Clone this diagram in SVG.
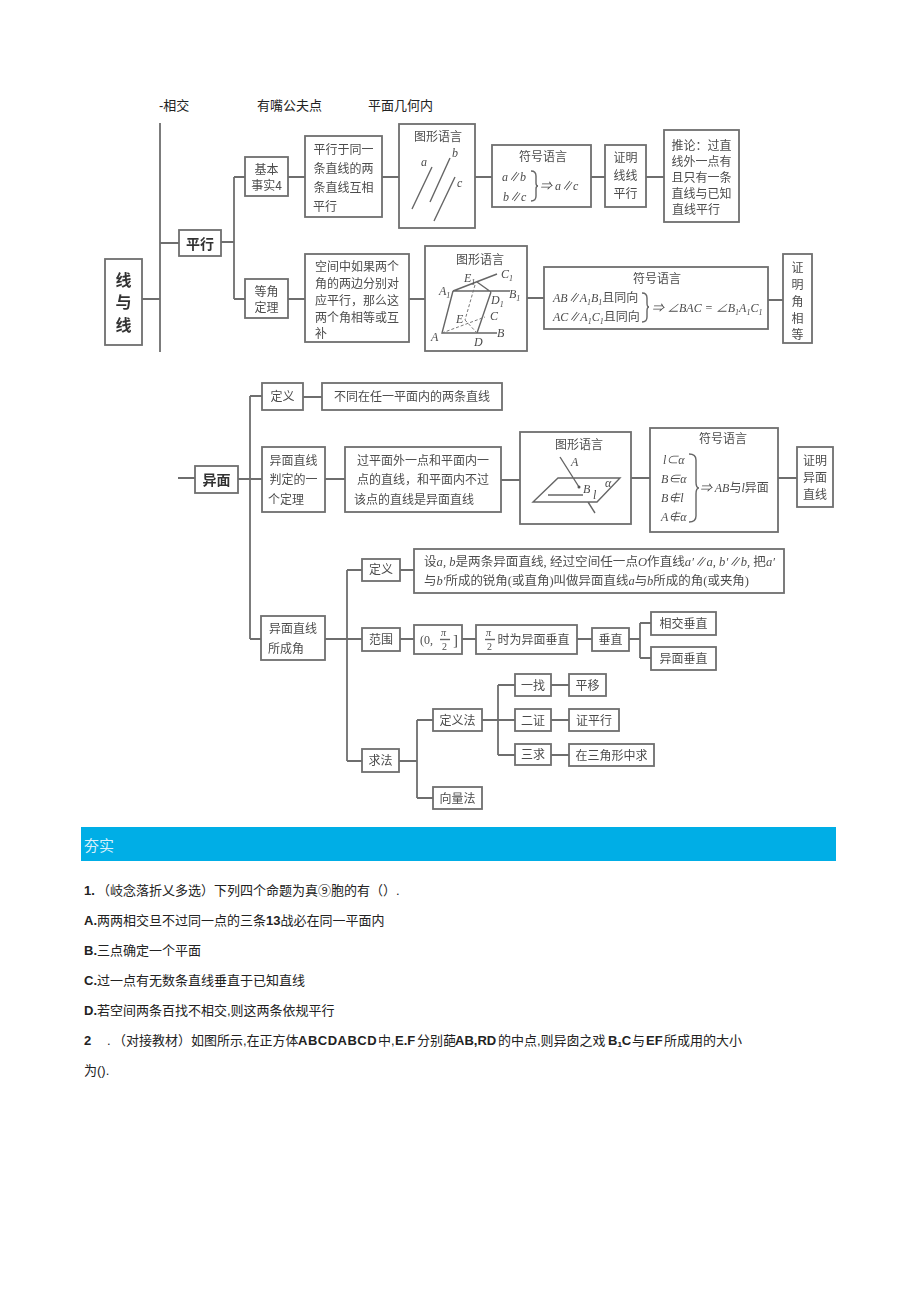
<svg xmlns="http://www.w3.org/2000/svg" width="920" height="1301" viewBox="0 0 920 1301">
<style>
text{font-family:"Liberation Sans","Noto Sans CJK SC",sans-serif;}
.b{fill:#fff;stroke:#6e6e6e;stroke-width:1.8;}
.c{fill:none;stroke:#6e6e6e;stroke-width:1.8;}
.f{fill:none;stroke:#666;stroke-width:1.4;}
.d{fill:none;stroke:#777;stroke-width:1;stroke-dasharray:3 2;}
.t{font-family:"Noto Sans CJK SC",sans-serif;font-size:12px;fill:#4c4c4c;}
.m{font-family:"Noto Sans CJK SC",sans-serif;font-size:12px;fill:#4c4c4c;text-anchor:middle;}
.h{font-family:"Noto Sans CJK SC",sans-serif;font-size:16px;font-weight:700;fill:#333;text-anchor:middle;}
.i{font-family:"Liberation Serif","Noto Sans CJK SC",serif;font-style:italic;font-size:12px;fill:#4c4c4c;}
.s{font-size:8px;}
.p{font-size:13px;fill:#222;}
.q{font-weight:700;}
</style>
<defs><filter id="soft" x="-2%" y="-2%" width="104%" height="104%"><feGaussianBlur stdDeviation="0.45"/></filter></defs>
<rect id="page" width="920" height="1301" fill="#fff"/>
<g id="header" class="p">
<text class="p" x="159" y="110">-相交</text>
<text class="p" x="257" y="110">有嘴公夫点</text>
<text class="p" x="368" y="110">平面几何内</text>
</g>
<g id="diagram" filter="url(#soft)">
<g id="connectors">
<path class="c" d="M160 123V352M142 299H160M160 243H179M221 242H234M234 177V299M234 177H245M234 299H245M288 177H305M382 177H399M475 177H492M591 177H605M646 177H664M288 299H305M409 299H425M527 298H544M768 300H783"/>
<path class="c" d="M178 478H195M238 479H262M250 396V639M250 396H262M303 397H322M325 479H345M501 480H520M631 478H650M778 478H797M250 639H261"/>
<path class="c" d="M325 639H362M347 570V761M347 570H362M400 570H414M400 639H414M462 639H476M577 639H592M629 639H640M640 623V658M640 623H651M640 658H651M347 761H362"/>
<path class="c" d="M399 761H417M417 720V798M417 720H433M417 798H433M482 720H515M498 685V755M498 685H515M498 755H515M551 685H569M551 720H569M551 755H569"/>
</g>
<g id="n-root"><rect class="b" x="105" y="259" width="37" height="86"/><text class="h" x="123.500" y="286">线</text><text class="h" x="123.500" y="308">与</text><text class="h" x="123.500" y="331">线</text></g>
<g id="n-parallel"><rect class="b" x="179" y="230" width="42" height="26"/><text class="h" x="200" y="249" style="font-size:14px">平行</text></g>
<g id="n-fact4"><rect class="b" x="245" y="157" width="43" height="39"/><text class="m" x="266.500" y="174">基本</text><text class="m" x="266.500" y="190">事实4</text></g>
<g id="n-fact4-text"><rect class="b" x="305" y="136" width="77" height="81"/><text class="m" x="343.500" y="154">平行于同一</text><text class="m" x="343.500" y="173">条直线的两</text><text class="m" x="343.500" y="192">条直线互相</text><text class="t" x="313" y="211">平行</text></g>
<g id="n-fig1"><rect class="b" x="399" y="124" width="76" height="104"/><text class="m" x="438" y="141">图形语言</text>
<path class="f" d="M412 209L432 167M430 202L450 158M434 221L455 177"/>
<text class="i" x="421" y="166">a</text><text class="i" x="452" y="157">b</text><text class="i" x="457" y="187">c</text></g>
<g id="n-sym1"><rect class="b" x="492" y="145" width="99" height="62"/><text class="m" x="543" y="161">符号语言</text>
<text class="i" x="502" y="181">a∥b</text><text class="i" x="503" y="201">b∥c</text>
<path class="f" d="M531 171Q536 171 536 176V183Q536 186 538 186Q536 186 536 189V196Q536 201 531 201"/>
<text class="i" x="540" y="190">⇒ a∥c</text></g>
<g id="n-prove1"><rect class="b" x="605" y="145" width="41" height="62"/><text class="m" x="625.500" y="162">证明</text><text class="m" x="625.500" y="180">线线</text><text class="m" x="625.500" y="198">平行</text></g>
<g id="n-corollary"><rect class="b" x="664" y="130" width="75" height="92"/><text class="m" x="701.500" y="150">推论：过直</text><text class="m" x="701.500" y="166">线外一点有</text><text class="m" x="701.500" y="182">且只有一条</text><text class="m" x="701.500" y="198">直线与已知</text><text class="t" x="672" y="214">直线平行</text></g>
<g id="n-equal"><rect class="b" x="245" y="279" width="43" height="39"/><text class="m" x="266.500" y="296">等角</text><text class="m" x="266.500" y="312">定理</text></g>
<g id="n-equal-text"><rect class="b" x="305" y="254" width="104" height="88"/><text class="m" x="357" y="271">空间中如果两个</text><text class="m" x="357" y="288">角的两边分别对</text><text class="m" x="357" y="305">应平行，那么这</text><text class="m" x="357" y="322">两个角相等或互</text><text class="t" x="315" y="338">补</text></g>
<g id="n-fig2"><rect class="b" x="425" y="246" width="102" height="105"/><text class="m" x="480" y="264">图形语言</text>
<path class="f" d="M453 291L442 333H497M453 291H510M491 292L477 333M453 291L497 274M477 282L491 292"/>
<path class="d" d="M475 285L465 320M442 333L485 317M465 320L477 333"/>
<text class="i" x="439" y="295">A<tspan class="s" baseline-shift="-3">1</tspan></text><text class="i" x="464" y="282">E<tspan class="s" baseline-shift="-3">1</tspan></text><text class="i" x="501" y="278">C<tspan class="s" baseline-shift="-3">1</tspan></text><text class="i" x="509" y="298">B<tspan class="s" baseline-shift="-3">1</tspan></text><text class="i" x="491" y="304">D<tspan class="s" baseline-shift="-3">1</tspan></text><text class="i" x="456" y="323">E</text><text class="i" x="490" y="320">C</text><text class="i" x="497" y="337">B</text><text class="i" x="431" y="341">A</text><text class="i" x="474" y="346">D</text></g>
<g id="n-sym2"><rect class="b" x="544" y="267" width="224" height="62"/><text class="m" x="657" y="283">符号语言</text>
<text class="i" x="553" y="302">AB∥A<tspan class="s" baseline-shift="-3">1</tspan>B<tspan class="s" baseline-shift="-3">1</tspan><tspan style="font-style:normal">且同向</tspan></text>
<text class="i" x="553" y="321">AC∥A<tspan class="s" baseline-shift="-3">1</tspan>C<tspan class="s" baseline-shift="-3">1</tspan><tspan style="font-style:normal">且同向</tspan></text>
<path class="f" d="M642 293Q647 293 647 298V303Q647 307 649 307Q647 307 647 311V317Q647 322 642 322"/>
<text class="i" x="652" y="312">⇒ ∠BAC = ∠B<tspan class="s" baseline-shift="-3">1</tspan>A<tspan class="s" baseline-shift="-3">1</tspan>C<tspan class="s" baseline-shift="-3">1</tspan></text></g>
<g id="n-prove2"><rect class="b" x="783" y="254" width="29" height="89"/><text class="m" x="797.500" y="272">证</text><text class="m" x="797.500" y="289">明</text><text class="m" x="797.500" y="306">角</text><text class="m" x="797.500" y="323">相</text><text class="m" x="797.500" y="339">等</text></g>
<g id="n-skew"><rect class="b" x="195" y="466" width="43" height="27"/><text class="h" x="216.500" y="485" style="font-size:14px">异面</text></g>
<g id="n-def"><rect class="b" x="262" y="383" width="41" height="27"/><text class="m" x="282.500" y="401">定义</text></g>
<g id="n-def-text"><rect class="b" x="322" y="383" width="180" height="27"/><text class="m" x="412" y="401">不同在任一平面内的两条直线</text></g>
<g id="n-judge"><rect class="b" x="262" y="447" width="63" height="65"/><text class="m" x="293.500" y="465">异面直线</text><text class="m" x="293.500" y="484">判定的一</text><text class="t" x="268" y="504">个定理</text></g>
<g id="n-judge-text"><rect class="b" x="345" y="447" width="156" height="65"/><text class="m" x="423" y="465">过平面外一点和平面内一</text><text class="m" x="423" y="484">点的直线，和平面内不过</text><text class="t" x="354" y="504">该点的直线是异面直线</text></g>
<g id="n-fig3"><rect class="b" x="520" y="432" width="111" height="92"/><text class="m" x="579" y="449">图形语言</text>
<path class="f" d="M533 502L558 478H620L597 502ZM560 457L579 487M548 495H583M588 502L595 513"/><circle cx="579" cy="487" r="1.500" fill="#555"/>
<text class="i" x="571" y="466">A</text><text class="i" x="583" y="493">B</text><text class="i" x="593" y="499">l</text><text class="i" x="605" y="487">α</text></g>
<g id="n-sym3"><rect class="b" x="650" y="428" width="128" height="104"/><text class="m" x="723" y="443">符号语言</text>
<text class="i" x="663" y="464">l⊂α</text><text class="i" x="661" y="483">B∈α</text><text class="i" x="661" y="502">B∉l</text><text class="i" x="661" y="521">A∉α</text>
<path class="f" d="M689 454Q696 454 696 460V482Q696 488 699 488Q696 488 696 494V516Q696 522 689 522"/>
<text class="i" x="700" y="492">⇒ AB<tspan style="font-style:normal">与</tspan>l<tspan style="font-style:normal">异面</tspan></text></g>
<g id="n-prove3"><rect class="b" x="797" y="447" width="36" height="60"/><text class="m" x="815" y="465">证明</text><text class="m" x="815" y="482">异面</text><text class="m" x="815" y="499">直线</text></g>
<g id="n-angle"><rect class="b" x="261" y="616" width="64" height="44"/><text class="m" x="293" y="633">异面直线</text><text class="t" x="268" y="653">所成角</text></g>
<g id="n-adef"><rect class="b" x="362" y="559" width="38" height="22"/><text class="m" x="381" y="574">定义</text></g>
<g id="n-adef-text"><rect class="b" x="414" y="549" width="370" height="44"/>
<text class="i" x="424" y="566" textLength="351" lengthAdjust="spacingAndGlyphs"><tspan style="font-style:normal">设</tspan>a, b<tspan style="font-style:normal">是两条异面直线, 经过空间任一点</tspan>O<tspan style="font-style:normal">作直线</tspan>a′∥a, b′∥b, <tspan style="font-style:normal">把</tspan>a′</text>
<text class="i" x="424" y="585" textLength="325" lengthAdjust="spacingAndGlyphs"><tspan style="font-style:normal">与</tspan>b′<tspan style="font-style:normal">所成的锐角(或直角)叫做异面直线</tspan>a<tspan style="font-style:normal">与</tspan>b<tspan style="font-style:normal">所成的角(或夹角)</tspan></text></g>
<g id="n-range"><rect class="b" x="362" y="628" width="38" height="23"/><text class="m" x="381" y="644">范围</text></g>
<g id="n-range-val"><rect class="b" x="414" y="625" width="48" height="29"/><text class="i" x="420" y="644" style="font-style:normal">(0,</text><text class="i" x="441" y="636" style="font-size:10px">π</text><path class="f" d="M440 639.500H450"/><text class="i" x="442" y="650" style="font-style:normal;font-size:10px">2</text><text class="i" x="453" y="645" style="font-style:normal;font-size:15px">]</text></g>
<g id="n-range-text"><rect class="b" x="476" y="625" width="101" height="29"/><text class="i" x="486" y="636" style="font-size:10px">π</text><path class="f" d="M485 639.500H495"/><text class="i" x="487" y="650" style="font-style:normal;font-size:10px">2</text><text class="m" x="533.500" y="644">时为异面垂直</text></g>
<g id="n-perp"><rect class="b" x="592" y="628" width="37" height="23"/><text class="m" x="610.500" y="644">垂直</text></g>
<g id="n-perp1"><rect class="b" x="651" y="612" width="65" height="23"/><text class="m" x="683.500" y="628">相交垂直</text></g>
<g id="n-perp2"><rect class="b" x="651" y="647" width="65" height="23"/><text class="m" x="683.500" y="663">异面垂直</text></g>
<g id="n-method"><rect class="b" x="362" y="749" width="37" height="23"/><text class="m" x="380.500" y="765">求法</text></g>
<g id="n-defm"><rect class="b" x="433" y="709" width="49" height="22"/><text class="m" x="457.500" y="725">定义法</text></g>
<g id="n-vec"><rect class="b" x="433" y="787" width="49" height="22"/><text class="m" x="457.500" y="803">向量法</text></g>
<g id="n-s1"><rect class="b" x="515" y="674" width="36" height="22"/><text class="m" x="533" y="690">一找</text></g>
<g id="n-s2"><rect class="b" x="515" y="709" width="36" height="22"/><text class="m" x="533" y="725">二证</text></g>
<g id="n-s3"><rect class="b" x="515" y="744" width="36" height="21"/><text class="m" x="533" y="759">三求</text></g>
<g id="n-r1"><rect class="b" x="569" y="674" width="37" height="22"/><text class="m" x="587.500" y="690">平移</text></g>
<g id="n-r2"><rect class="b" x="569" y="709" width="50" height="22"/><text class="m" x="594" y="725">证平行</text></g>
<g id="n-r3"><rect class="b" x="569" y="744" width="85" height="22"/><text class="m" x="611.500" y="760">在三角形中求</text></g>
</g>
<g id="band"><rect x="81" y="827" width="755" height="34" fill="#00aee6"/><text x="84" y="851" font-size="15" fill="#d8f0fa">夯实</text></g>
<g id="questions">
<text class="p" x="84" y="895"><tspan class="q">1.</tspan><tspan x="97">（岐念落折乂多选）下列四个命题为真⑨胞的有（）.</tspan></text>
<text class="p" x="84" y="925"><tspan class="q">A.</tspan><tspan x="97">两两相交旦不过同一点的三条</tspan><tspan class="q">13</tspan>战必在同一平面内</text>
<text class="p" x="84" y="955"><tspan class="q">B.</tspan><tspan x="97">三点确定一个平面</tspan></text>
<text class="p" x="84" y="985"><tspan class="q">C.</tspan><tspan x="97">过一点有无数条直线垂直于已知直线</tspan></text>
<text class="p" x="84" y="1015"><tspan class="q">D.</tspan><tspan x="97">若空间两条百找不相交,则这两条依规平行</tspan></text>
<text class="p" x="84" y="1045"><tspan class="q">2</tspan><tspan x="107">.</tspan><tspan x="113">（对接教材）如图所示,在正方体</tspan><tspan class="q" x="298" letter-spacing="0.5">ABCDABCD</tspan><tspan x="378">中,</tspan><tspan class="q" x="395">E.F</tspan><tspan x="417">分别葩</tspan><tspan class="q" x="455">AB,RD</tspan><tspan x="498">的中点,则异囱之戏</tspan><tspan class="q" x="608">B</tspan><tspan class="q s" baseline-shift="-2">1</tspan><tspan class="q">C</tspan><tspan x="632">与</tspan><tspan class="q" x="646">EF</tspan><tspan x="664">所成用的大小</tspan></text>
<text class="p" x="84" y="1075">为().</text>
</g>
</svg>
